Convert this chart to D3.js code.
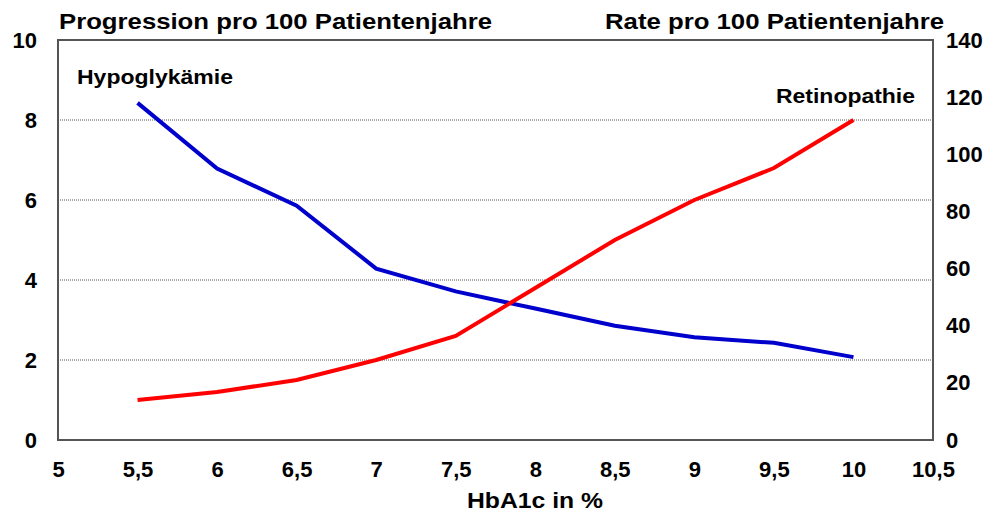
<!DOCTYPE html>
<html>
<head>
<meta charset="utf-8">
<script src="https://cdn.jsdelivr.net/npm/d3@7"></script>
<style>
  body { margin: 0; background: #fff; }
  text { font-family: "Liberation Sans", Arial, sans-serif; font-weight: bold; fill: #000; }
</style>
</head>
<body>
<div id="chart"></div>
<script>
// HbA1c values (x)
const hba1c = [5.5, 6, 6.5, 7, 7.5, 8, 8.5, 9, 9.5, 10];
// Retinopathie, left axis (Progression pro 100 Patientenjahre)
const retinopathie = [1.0, 1.2, 1.5, 2.0, 2.6, 3.8, 5.0, 6.0, 6.8, 8.0];
// Hypoglykämie, right axis (Rate pro 100 Patientenjahre)
const hypoglykaemie = [118, 95, 82, 60, 52, 46, 40, 36, 34, 29];

const xTicks = [5, 5.5, 6, 6.5, 7, 7.5, 8, 8.5, 9, 9.5, 10, 10.5];
const leftTicks = [0, 2, 4, 6, 8, 10];
const rightTicks = [0, 20, 40, 60, 80, 100, 120, 140];

const W = 1000, H = 515;
const margin = { top: 40, right: 67, bottom: 75, left: 58 };
const width = W - margin.left - margin.right,
  height = H - margin.top - margin.bottom;

const svg = d3.select('#chart').append('svg')
  .attr('width', W)
  .attr('height', H);

const g = svg.append('g')
  .attr('transform', 'translate(' + margin.left + ',' + margin.top + ')');

const x = d3.scaleLinear().domain([5, 10.5]).range([0, width]);
const yL = d3.scaleLinear().domain([0, 10]).range([height, 0]);
const yR = d3.scaleLinear().domain([0, 140]).range([height, 0]);

const fmt = d => String(d).replace('.', ',');

// dotted gridlines
g.selectAll('.grid')
  .data(leftTicks.filter(d => d > 0 && d < 10))
  .enter().append('line')
  .attr('x1', 0).attr('x2', width)
  .attr('y1', d => yL(d)).attr('y2', d => yL(d))
  .attr('stroke', '#555')
  .attr('stroke-width', 1)
  .attr('stroke-dasharray', '1,1');

// plot frame
g.append('rect')
  .attr('x', 0).attr('y', 0)
  .attr('width', width).attr('height', height)
  .attr('fill', 'none')
  .attr('stroke', '#555')
  .attr('stroke-width', 2);

// axes (labels only, frame drawn above)
const axisStyle = sel => {
  sel.select('.domain').remove();
  sel.selectAll('.tick line').remove();
  sel.selectAll('text')
    .style('font-size', '22px')
    .style('font-family', '"Liberation Sans", Arial, sans-serif')
    .style('font-weight', 'bold')
    .attr('fill', '#000');
};

g.append('g')
  .attr('transform', 'translate(0,' + height + ')')
  .call(d3.axisBottom(x).tickValues(xTicks).tickFormat(fmt).tickSize(0).tickPadding(21))
  .call(axisStyle);

g.append('g')
  .call(d3.axisLeft(yL).tickValues(leftTicks).tickFormat(fmt).tickSize(0).tickPadding(21))
  .call(axisStyle);

g.append('g')
  .attr('transform', 'translate(' + width + ',0)')
  .call(d3.axisRight(yR).tickValues(rightTicks).tickFormat(fmt).tickSize(0).tickPadding(13))
  .call(axisStyle);

// lines
const lineL = d3.line().x((d, i) => x(hba1c[i])).y(d => yL(d));
const lineR = d3.line().x((d, i) => x(hba1c[i])).y(d => yR(d));

g.append('path')
  .datum(hypoglykaemie)
  .attr('d', lineR)
  .attr('fill', 'none')
  .attr('stroke', '#0000cc')
  .attr('stroke-width', 4);

g.append('path')
  .datum(retinopathie)
  .attr('d', lineL)
  .attr('fill', 'none')
  .attr('stroke', '#ff0000')
  .attr('stroke-width', 4);

// titles and labels (text is a bit wider than plain Arial in the original)
svg.append('text')
  .attr('x', 59).attr('y', 29)
  .attr('textLength', 433).attr('lengthAdjust', 'spacingAndGlyphs')
  .style('font-size', '22px')
  .text('Progression pro 100 Patientenjahre');

svg.append('text')
  .attr('x', 605).attr('y', 29)
  .attr('textLength', 339).attr('lengthAdjust', 'spacingAndGlyphs')
  .style('font-size', '22px')
  .text('Rate pro 100 Patientenjahre');

svg.append('text')
  .attr('x', 77).attr('y', 84)
  .attr('textLength', 156).attr('lengthAdjust', 'spacingAndGlyphs')
  .style('font-size', '21px')
  .text('Hypoglykämie');

svg.append('text')
  .attr('x', 776).attr('y', 103)
  .attr('textLength', 139).attr('lengthAdjust', 'spacingAndGlyphs')
  .style('font-size', '21px')
  .text('Retinopathie');

svg.append('text')
  .attr('x', 467).attr('y', 508)
  .attr('textLength', 136).attr('lengthAdjust', 'spacingAndGlyphs')
  .style('font-size', '22px')
  .text('HbA1c in %');
</script>
</body>
</html>
